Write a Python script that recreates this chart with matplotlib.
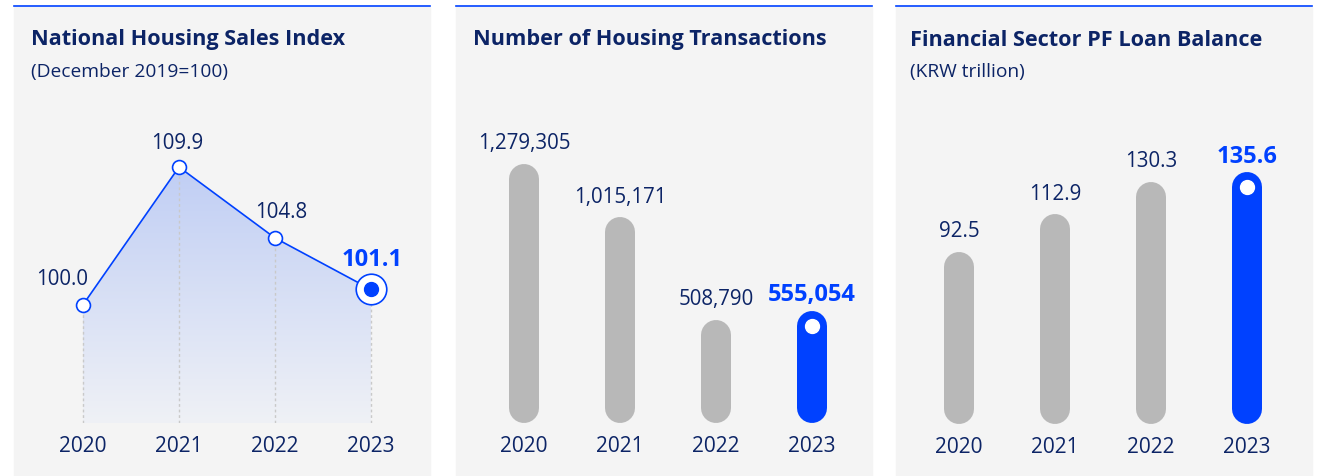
import numpy as np
import matplotlib.pyplot as plt
from matplotlib.patches import Rectangle
from matplotlib.lines import Line2D
from matplotlib.colors import LinearSegmentedColormap

plt.rcParams['font.family'] = ['Open Sans', 'DejaVu Sans']

years = ['2020', '2021', '2022', '2023']
sales_index = [100.0, 109.9, 104.8, 101.1]
transactions = [1279305, 1015171, 508790, 555054]
pf_loans = [92.5, 112.9, 130.3, 135.6]

titles = ['National Housing Sales Index', 'Number of Housing Transactions',
          'Financial Sector PF Loan Balance']
subtitles = ['(December 2019=100)', '', '(KRW trillion)']

NAVY = '#0c2466'
BLUE = '#0041ff'
GRAY = '#b8b8b8'
BG = '#f4f4f4'

W, H = 1317, 476
fig = plt.figure(figsize=(W / 100, H / 100), dpi=100)
fig.patch.set_facecolor('white')


def px_axes(left, top, width, height):
    return fig.add_axes([left / W, 1 - (top + height) / H, width / W, height / H])


# panel backgrounds, top rule and titles
panels = [(14, 416, 31), (456, 416, 473), (896, 416, 910)]
for (px, pw, tx), title, sub in zip(panels, titles, subtitles):
    fig.patches.append(Rectangle((px / W, 0), pw / W, (H - 7) / H,
                                 transform=fig.transFigure, color=BG, zorder=-5))
    fig.lines.append(Line2D([px / W, (px + pw) / W], [(H - 5.5) / H] * 2,
                            transform=fig.transFigure, color=BLUE, lw=1.2,
                            zorder=-4))
    fig.text(tx / W, 1 - 40 / H, title, fontsize=15.6, fontweight='bold',
             color=NAVY, va='center', ha='left')
    if sub:
        fig.text(tx / W, 1 - 71.5 / H, sub, fontsize=13.8, color=NAVY,
                 va='center', ha='left')

AX_TOP, AX_H = 110, 313   # pixel top and height of plotting areas
x = np.arange(len(years))

VAL_FS, HI_FS = 14.8, 17


def style(ax):
    ax.set_facecolor('none')
    for s in ax.spines.values():
        s.set_visible(False)
    ax.set_yticks([])
    ax.set_xticks(x, years)
    ax.tick_params(axis='x', length=0, pad=9.5, labelsize=15, labelcolor=NAVY)
    ax.set_xlim(-0.5, 3.5)


# ---- panel 1: line chart
ax1 = px_axes(35, AX_TOP, 384, AX_H)
ylo, yhi = 91.5, 114.0
poly = ax1.fill_between(x, sales_index, ylo, color='none', lw=0)
cmap = LinearSegmentedColormap.from_list('fade', ['#eff1f6', '#c0cef4'])
grad = np.linspace(0, 1, 256).reshape(-1, 1)
im = ax1.imshow(grad, cmap=cmap, origin='lower', aspect='auto',
                extent=(x[0], x[-1], ylo, max(sales_index)), zorder=1)
im.set_clip_path(poly.get_paths()[0], transform=ax1.transData)
ax1.vlines(x, ylo, sales_index, colors='#c9c9c9', linestyles=(0, (2, 2)),
           lw=1, zorder=2)
ax1.plot(x, sales_index, color=BLUE, lw=1.2, zorder=3)
ax1.plot(x[:-1], sales_index[:-1], 'o', ms=10, mfc='white', mec=BLUE,
         mew=1.2, zorder=4)
ax1.plot(x[-1], sales_index[-1], 'o', ms=22, mfc='white', mec=BLUE,
         mew=1.2, zorder=4)
ax1.plot(x[-1], sales_index[-1], 'o', ms=10, color=BLUE, zorder=5)
offsets1 = [(-15, 18.5), (-1.5, 17), (4.5, 18), (0.5, 21)]
for i, (v, off) in enumerate(zip(sales_index, offsets1)):
    last = i == len(x) - 1
    ax1.annotate(f'{v:.1f}', (x[i], v), xytext=off, textcoords='offset points',
                 ha='center', va='center', fontsize=HI_FS if last else VAL_FS,
                 fontweight='bold' if last else 'normal',
                 color=BLUE if last else NAVY)
style(ax1)
ax1.set_ylim(ylo, yhi)


# ---- panels 2 and 3: rounded bars
def rounded_bars(ax, values, ymax, fmt, bar_px=30):
    ax.set_ylim(0, ymax)
    r = bar_px / 2 * ymax / AX_H
    for i, v in enumerate(values):
        last = i == len(values) - 1
        c = BLUE if last else GRAY
        ax.plot([x[i], x[i]], [r, v - r], color=c, lw=bar_px * 0.72,
                solid_capstyle='round', zorder=2)
        if last:
            ax.plot(x[i], v - r, 'o', ms=10, color='white', zorder=3)
        ax.annotate(fmt(v), (x[i], v), xytext=(0, 11 if last else 14.5),
                    textcoords='offset points', ha='center', va='center',
                    fontsize=HI_FS if last else VAL_FS,
                    fontweight='bold' if last else 'normal',
                    color=BLUE if last else NAVY)
    style(ax)
    ax.set_ylim(0, ymax)


ax2 = px_axes(476, AX_TOP, 384, AX_H)
rounded_bars(ax2, transactions, 1546000, lambda v: f'{v:,}')

ax3 = px_axes(911, AX_TOP + 1, 384, AX_H)
rounded_bars(ax3, pf_loans, 168.4, lambda v: f'{v:.1f}')

fig.savefig('out.png', dpi=100)
